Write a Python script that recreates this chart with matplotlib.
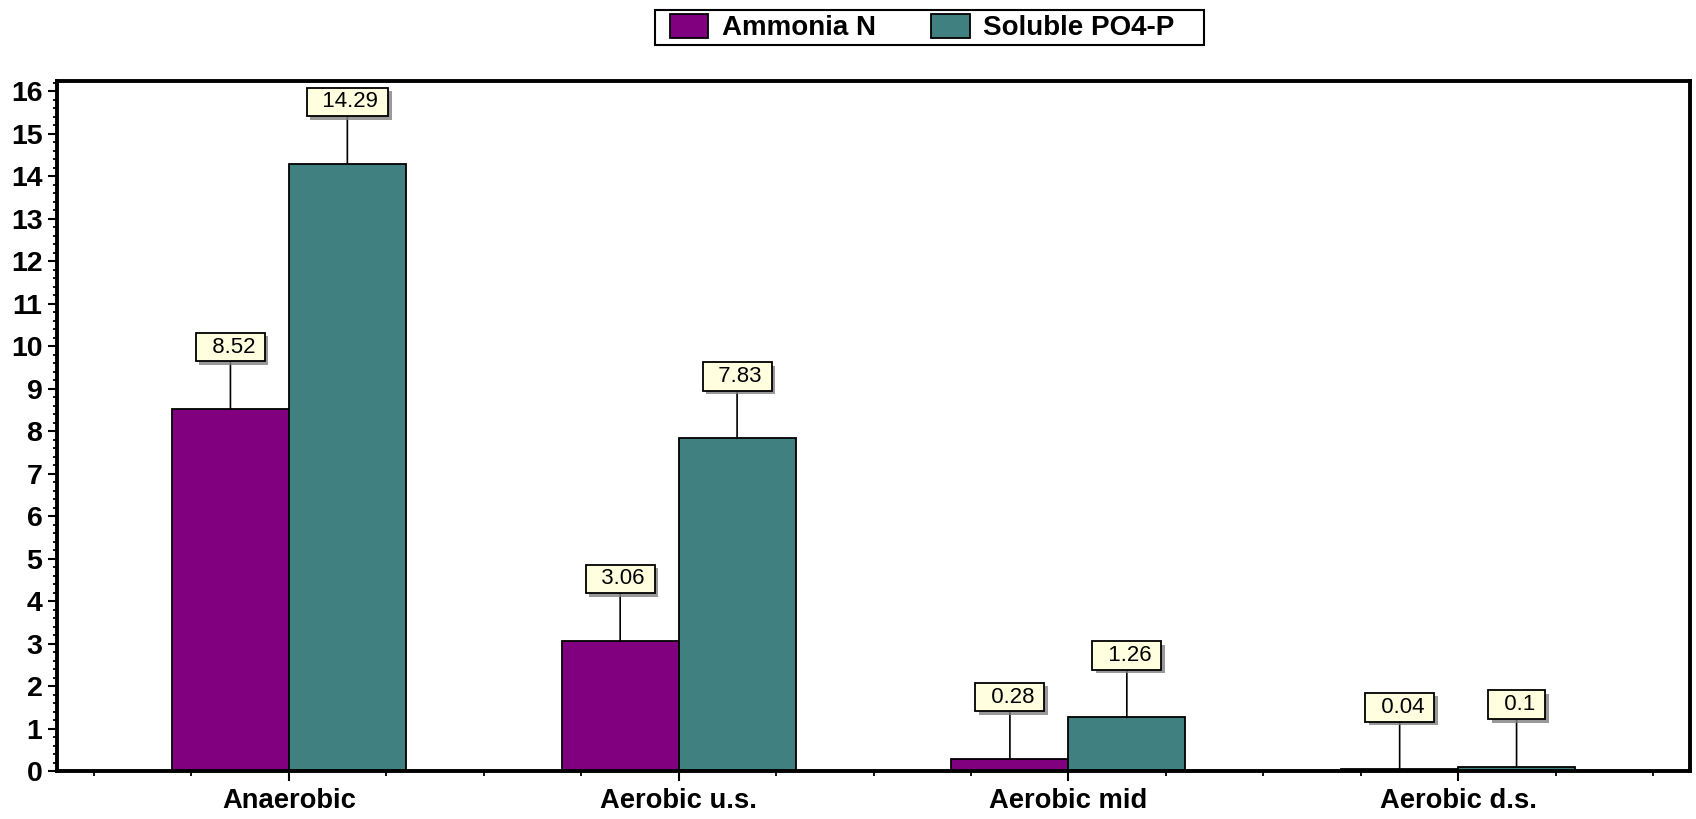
import matplotlib
matplotlib.use("Agg")
import matplotlib.pyplot as plt
import numpy as np
from matplotlib.ticker import MultipleLocator, FixedLocator
from matplotlib.patches import Rectangle
import matplotlib.patheffects as pe

categories = ["Anaerobic", "Aerobic u.s.", "Aerobic mid", "Aerobic d.s."]
ammonia_n = [8.52, 3.06, 0.28, 0.04]
soluble_po4 = [14.29, 7.83, 1.26, 0.1]
series_names = ["Ammonia N", "Soluble PO4-P"]
colors = ["#800080", "#408080"]

plt.rcParams['font.family'] = ['Liberation Sans', 'DejaVu Sans']

W, H = 1696, 819
fig = plt.figure(figsize=(W / 100, H / 100), dpi=100)
ax = fig.add_axes([57 / W, 1 - 771 / H, (1690 - 57) / W, (771 - 81) / H])

x = np.arange(len(categories))
bw = 0.3
bars1 = ax.bar(x - bw / 2, ammonia_n, bw, color=colors[0], edgecolor="black", linewidth=1.3, label=series_names[0], zorder=2)
bars2 = ax.bar(x + bw / 2, soluble_po4, bw, color=colors[1], edgecolor="black", linewidth=1.3, label=series_names[1], zorder=2)

ax.set_xlim(-0.595, 3.595)
ax.set_ylim(0, 16.24)

ax.yaxis.set_major_locator(MultipleLocator(1))
ax.yaxis.set_minor_locator(MultipleLocator(0.2))
ax.xaxis.set_major_locator(FixedLocator(x))
ax.xaxis.set_minor_locator(FixedLocator([v for v in np.arange(-0.5, 3.51, 0.25) if abs(v - round(v)) > 1e-6]))
ax.set_xticklabels(categories)

for lab in ax.get_xticklabels() + ax.get_yticklabels():
    lab.set_fontweight("bold")
ax.tick_params(axis="y", which="major", length=6.5, width=1.5, labelsize=20.5, pad=4)
ax.tick_params(axis="y", which="minor", length=3, width=1.3)
ax.tick_params(axis="x", which="major", length=7.2, width=1.5, labelsize=19.7, pad=5)
ax.tick_params(axis="x", which="minor", length=3.5, width=1.3)

for s in ax.spines.values():
    s.set_linewidth(2.8)
    s.set_zorder(3)

# value labels
for xs, vals in ((x - bw / 2, ammonia_n), (x + bw / 2, soluble_po4)):
    for xi, v in zip(xs, vals):
        ann = ax.annotate("  " + f"{v:g}" + " ", xy=(xi, v), xytext=(0, 62), textcoords="offset pixels",
                          ha="center", va="center", fontsize=16, zorder=5,
                          bbox=dict(boxstyle="square,pad=0.17", fc="#FFFFE0", ec="black", lw=1.3),
                          arrowprops=dict(arrowstyle="-", color="black", lw=1.2, shrinkA=0, shrinkB=0))
        ann.get_bbox_patch().set_path_effects([
            pe.SimplePatchShadow(offset=(2.5, -2.5), shadow_rgbFace="#808080", alpha=0.8), pe.Normal()])

# legend (frame drawn separately)
leg = fig.legend(handles=[bars1, bars2], loc="center", bbox_to_anchor=(922 / W, 1 - 27.5 / H), ncol=2,
                 frameon=False, prop=dict(weight="bold", size=20), handlelength=1.4, handleheight=0.94,
                 handletextpad=0.47, columnspacing=2.0, borderpad=0.0, borderaxespad=0.0)
fig.patches.append(Rectangle((655 / W, 1 - 45 / H), (1204 - 655) / W, 35 / H, transform=fig.transFigure,
                             fill=False, edgecolor="black", linewidth=1.5))

fig.savefig("out.png", dpi=100)
